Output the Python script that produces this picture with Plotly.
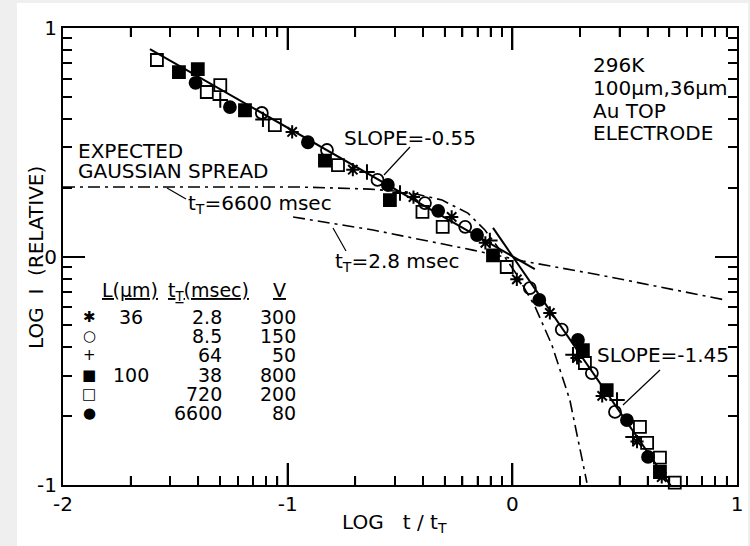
import plotly.graph_objects as go
import numpy as np

# ---------------- data (log10 t/tT , log10 I relative) ----------------
ast_x = [-0.98, -0.71, -0.44, -0.27, -0.12, 0.02, 0.167, 0.288, 0.40, 0.555, 0.665]
ast_y = [0.545, 0.38, 0.26, 0.173, 0.06, -0.10, -0.247, -0.444, -0.61, -0.81, -0.965]

ocirc_x = [-1.115, -0.825, -0.60, -0.389, -0.21, 0.078, 0.22, 0.354, 0.457, 0.71]
ocirc_y = [0.628, 0.466, 0.335, 0.234, 0.13, -0.138, -0.32, -0.51, -0.68, -1.05]

plus_x = [-1.30, -1.11, -0.647, -0.50, -0.10, 0.27, 0.466, 0.537]
plus_y = [0.685, 0.60, 0.37, 0.278, 0.07, -0.43, -0.628, -0.79]

fsq_x = [-1.484, -1.40, -1.19, -0.834, -0.545, -0.086, 0.314, 0.42, 0.657, 0.77]
fsq_y = [0.807, 0.82, 0.64, 0.42, 0.247, 0.005, -0.41, -0.585, -0.943, -1.055]

osq_x = [-1.582, -1.36, -1.30, -1.057, -0.776, -0.40, -0.31, -0.025, 0.323, 0.568, 0.60, 0.657, 0.723]
osq_y = [0.86, 0.72, 0.75, 0.575, 0.40, 0.195, 0.13, -0.046, -0.466, -0.746, -0.816, -0.88, -0.99]

fcirc_x = [-1.41, -1.257, -0.91, -0.554, -0.33, -0.157, 0.12, 0.292, 0.51, 0.604, 0.74]
fcirc_y = [0.76, 0.654, 0.50, 0.313, 0.20, 0.094, -0.19, -0.365, -0.716, -0.877, -1.05]

# fitted straight lines
fit1_x = [-1.613, 0.10]
fit1_y = [0.908, -0.055]
fit2_x = [-0.086, 0.78]
fit2_y = [0.125, -1.11]

# expected gaussian spread curves
g6600_x = [-2.0, -0.945, -0.634, -0.465, -0.313, -0.198, -0.122, -0.055, 0.012, 0.10, 0.176, 0.256, 0.332]
g6600_y = [0.304, 0.304, 0.295, 0.282, 0.247, 0.19, 0.116, 0.028, -0.068, -0.217, -0.387, -0.628, -0.99]
g28_x = [-0.976, -0.620, -0.175, 0.047, 0.390, 0.946]
g28_y = [0.173, 0.116, 0.028, -0.02, -0.081, -0.19]

# legend table
tbl_symbols = ["✱", "○", "+", "■", "□", "●"]
tbl_L = ["36", "", "", "100", "", ""]
tbl_tT = ["2.8", "8.5", "64", "38", "720", "6600"]
tbl_V = ["300", "150", "50", "800", "200", "80"]

# tick labels (decade exponents)
x_tick_alias = {"0.01": "-2", "0.1": "-1", "1": "0", "10": "1"}
y_tick_alias = {"0.1": "-1", "1": "0", "10": "1"}

# ---------------- layout helpers ----------------
W, H = 750, 546
L, R, T, B = 63, 737, 28, 485
XR = (-2, 1)
YR = (-1, 1)
FONT = "DejaVu Sans"
FS = 20


def px_paper_x(px):
    return (px - L) / (R - L)


def px_paper_y(py):
    return (B - py) / (B - T)


def lin(v):
    return [10 ** a for a in v]


fig = go.Figure()

# white page on a light grey background
fig.add_shape(type="rect", xref="paper", yref="paper",
              x0=px_paper_x(17), x1=px_paper_x(748), y0=px_paper_y(546), y1=px_paper_y(3),
              fillcolor="white", line=dict(width=0), layer="below")

DD = "12px,5px,3px,5px"
fig.add_trace(go.Scatter(x=lin(g6600_x), y=lin(g6600_y), mode="lines", name="Gaussian t_T=6600 msec",
                         line=dict(color="black", width=1.6, dash=DD)))
fig.add_trace(go.Scatter(x=lin(g28_x), y=lin(g28_y), mode="lines", name="Gaussian t_T=2.8 msec",
                         line=dict(color="black", width=1.6, dash=DD)))
fig.add_trace(go.Scatter(x=lin(fit1_x), y=lin(fit1_y), mode="lines", name="slope -0.55",
                         line=dict(color="black", width=2)))
fig.add_trace(go.Scatter(x=lin(fit2_x), y=lin(fit2_y), mode="lines", name="slope -1.45",
                         line=dict(color="black", width=2)))

series = [
    (ast_x, ast_y, "asterisk-open", "36 µm, 2.8 msec, 300 V"),
    (ocirc_x, ocirc_y, "circle-open", "36 µm, 8.5 msec, 150 V"),
    (plus_x, plus_y, "cross-thin-open", "36 µm, 64 msec, 50 V"),
    (fsq_x, fsq_y, "square", "100 µm, 38 msec, 800 V"),
    (osq_x, osq_y, "square-open", "100 µm, 720 msec, 200 V"),
    (fcirc_x, fcirc_y, "circle", "100 µm, 6600 msec, 80 V"),
]
for xs, ys, sym, nm in series:
    m = dict(color="black", size=12, symbol=sym, line=dict(color="black", width=1.8))
    if sym in ("asterisk-open", "cross-thin-open"):
        m["line"] = dict(color="black", width=2)
        m["size"] = 11
    fig.add_trace(go.Scatter(x=lin(xs), y=lin(ys), mode="markers", name=nm, marker=m, cliponaxis=False))

# label pointer lines
leaders = [((410, 147), (384, 175)), ((660, 370), (623, 405)),
           ((167, 188), (186, 199)), ((333, 228), (346, 251))]
for (a, b) in leaders:
    fig.add_shape(type="line", xref="paper", yref="paper",
                  x0=px_paper_x(a[0]), y0=px_paper_y(a[1]), x1=px_paper_x(b[0]), y1=px_paper_y(b[1]),
                  line=dict(color="black", width=1.2))

# bottom/top edge tick marks, generated from the axis decades (2..9 subdivisions)
dec_per_px = (YR[1] - YR[0]) / (B - T)
tick_sets = {"major": ([], [], 22, 2.0), "minor": ([], [], 9, 1.6)}
for d in range(XR[0], XR[1]):
    for k in range(1, 10):
        v = d + float(np.log10(k))
        if v <= XR[0] + 1e-9:
            continue
        key = "major" if k == 1 else "minor"
        xs_, ys_, ln_px, _ = tick_sets[key]
        ln = ln_px * dec_per_px
        for y0, y1 in ((YR[0], YR[0] + ln), (YR[1], YR[1] - ln)):
            xs_ += [10 ** v, 10 ** v, None]
            ys_ += [10 ** y0, 10 ** y1, None]
for key, (xs_, ys_, _, wd) in tick_sets.items():
    fig.add_trace(go.Scatter(x=xs_, y=ys_, mode="lines", name="x " + key + " ticks", showlegend=False,
                             hoverinfo="skip", line=dict(color="black", width=wd)))

ann = []


def text(px, py, s, xanchor="center", size=FS, angle=0):
    ann.append(dict(x=px_paper_x(px), y=px_paper_y(py), xref="paper", yref="paper", text=s,
                    showarrow=False, xanchor=xanchor, yanchor="middle", textangle=angle,
                    font=dict(family=FONT, size=size, color="black")))


text(410, 138, "SLOPE=-0.55")
text(663, 355, "SLOPE=-1.45")
text(76, 151, "EXPECTED", "left")
text(76, 171, "GAUSSIAN SPREAD", "left")
text(186, 204, "t<sub>T</sub>=6600 msec", "left")
text(333, 262, "t<sub>T</sub>=2.8 msec", "left")
text(591, 65, "296K", "left")
text(591, 88, "100µm,36µm", "left")
text(591, 111, "Au TOP", "left")
text(591, 133, "ELECTRODE", "left")

TS = 19
text(130, 290, "<u>L(µm)</u>", "center", size=TS)
text(208, 292, "<u>t<sub>T</sub>(msec)</u>", "center", size=TS)
text(279, 290, "<u>V</u>", "center", size=TS)
row_y = [317, 336, 355, 375, 394, 413]
for i in range(6):
    text(89, row_y[i], tbl_symbols[i], "center", size=15)
    if tbl_L[i]:
        text(131, row_y[i], tbl_L[i], "center", size=TS)
    text(224, row_y[i], tbl_tT[i], "right", size=TS)
    text(298, row_y[i], tbl_V[i], "right", size=TS)

text(394, 523, "LOG   t / t<sub>T</sub>")
text(36, 258, "LOG  I  (RELATIVE)", angle=-90)

minor_cfg = dict(dtick="D1", ticks="inside", ticklen=9, tickwidth=1.5, tickcolor="black", showgrid=False)
axis_common = dict(type="log", showgrid=False, zeroline=False, showline=True, linecolor="black", linewidth=2,
                   mirror="ticks", ticks="inside", ticklen=22, tickwidth=2, tickcolor="black",
                   automargin=False, tickmode="linear", tick0=0, dtick=1,
                   tickfont=dict(family=FONT, size=FS, color="black"), minor=minor_cfg)
fig.update_xaxes(range=list(XR), labelalias=x_tick_alias, **axis_common)
fig.update_yaxes(range=list(YR), labelalias=y_tick_alias, **axis_common)

fig.update_layout(width=W, height=H, autosize=False,
                  margin=dict(l=L, r=W - R, t=T, b=H - B, autoexpand=False),
                  paper_bgcolor="#efefef", plot_bgcolor="white",
                  showlegend=False, annotations=ann,
                  font=dict(family=FONT, size=FS, color="black"))

fig.write_html("out.html", config={"displayModeBar": False},
               post_script="document.body.style.margin='0px';document.body.style.overflow='hidden';")
